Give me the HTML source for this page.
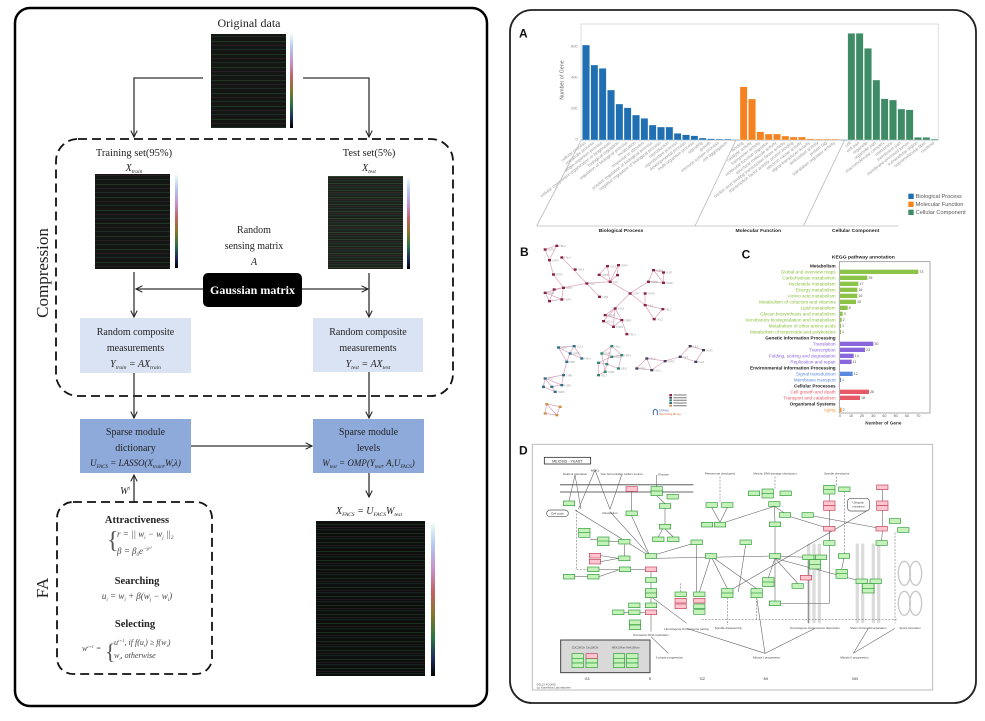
<!DOCTYPE html>
<html><head><meta charset="utf-8"><style>
html,body{margin:0;padding:0;background:#fff;}
svg{display:block;}
.sf{font-family:"Liberation Serif",serif;}
.ss{font-family:"Liberation Sans",sans-serif;}
.g{fill:#c4f2b8;stroke:#2f9a3a;stroke-width:2;}
.p{fill:#ffc6d0;stroke:#c2405a;stroke-width:2;}
.kl{stroke:#555;stroke-width:1.6;fill:none;}
.kd{stroke:#666;stroke-width:1.6;fill:none;stroke-dasharray:6 4;}
.e{stroke:#d9a4bd;stroke-width:2.2;}
</style></head><body>
<svg width="985" height="721" viewBox="0 0 985 721" xmlns="http://www.w3.org/2000/svg">
<defs>
<marker id="ar" viewBox="0 0 10 10" refX="9" refY="5" markerWidth="8" markerHeight="8" orient="auto" markerUnits="userSpaceOnUse"><path d="M1,1 L9,5 L1,9" fill="none" stroke="#222" stroke-width="1.3"/></marker>
<linearGradient id="cb" x1="0" y1="0" x2="0" y2="1">
<stop offset="0" stop-color="#eafff6"/><stop offset="0.15" stop-color="#b4c4f2"/><stop offset="0.3" stop-color="#c890cc"/><stop offset="0.45" stop-color="#c06464"/><stop offset="0.6" stop-color="#86762a"/><stop offset="0.75" stop-color="#2a7444"/><stop offset="0.88" stop-color="#1e2e62"/><stop offset="1" stop-color="#000"/>
</linearGradient>
<pattern id="h1" width="75" height="13" patternUnits="userSpaceOnUse"><rect width="75" height="13" fill="#131613"/><rect y="2" width="75" height="0.7" fill="#26402c"/><rect y="6" width="75" height="0.5" fill="#3c2836"/><rect y="10" width="75" height="0.6" fill="#263c33"/></pattern>
<pattern id="h2" width="75" height="7" patternUnits="userSpaceOnUse"><rect width="75" height="7" fill="#1a1f19"/><rect y="1" width="75" height="0.8" fill="#34482e"/><rect y="3.5" width="75" height="0.6" fill="#443436"/><rect y="5.5" width="75" height="0.7" fill="#2a4438"/></pattern>
<pattern id="h3" width="109" height="9" patternUnits="userSpaceOnUse"><rect width="109" height="9" fill="#0c0e0c"/><rect y="2" width="109" height="0.7" fill="#223a2a"/><rect y="5" width="109" height="0.5" fill="#362834"/><rect y="7.5" width="109" height="0.6" fill="#203630"/></pattern>
</defs>
<rect width="985" height="721" fill="#fff"/>

<!-- ================= LEFT PANEL ================= -->
<rect x="15" y="8" width="472" height="698" rx="15" fill="none" stroke="#000" stroke-width="2.5"/>
<g class="sf" fill="#222">
<text x="249" y="27" font-size="12" text-anchor="middle">Original data</text>
<rect x="211" y="34" width="75" height="94" fill="url(#h1)"/>
<rect x="290" y="34" width="3" height="94" fill="url(#cb)"/>

<polyline points="203,78 134,78 134,137" fill="none" stroke="#333" stroke-width="1.3" marker-end="url(#ar)"/>
<polyline points="303,78 369,78 369,137" fill="none" stroke="#333" stroke-width="1.3" marker-end="url(#ar)"/>

<rect x="56" y="139" width="397" height="257" rx="22" fill="none" stroke="#111" stroke-width="1.8" stroke-dasharray="9 5"/>

<text x="134" y="156" font-size="10.5" text-anchor="middle">Training set(95%)</text>
<text x="134" y="171" font-size="10" font-style="italic" text-anchor="middle">X<tspan font-size="5.5" dy="2">train</tspan></text>
<text x="369" y="156" font-size="10.5" text-anchor="middle">Test set(5%)</text>
<text x="369" y="171" font-size="10" font-style="italic" text-anchor="middle">X<tspan font-size="5.5" dy="2">test</tspan></text>

<rect x="95" y="174" width="75" height="95" fill="url(#h1)"/>
<rect x="175" y="175" width="3" height="93" fill="url(#cb)"/>
<rect x="328" y="176" width="75" height="93" fill="url(#h2)"/>
<rect x="407" y="178" width="3" height="91" fill="url(#cb)"/>

<text x="254" y="233" font-size="10" text-anchor="middle">Random</text>
<text x="254" y="249" font-size="10" text-anchor="middle">sensing matrix</text>
<text x="254" y="265" font-size="10" font-style="italic" text-anchor="middle">A</text>

<rect x="203" y="273" width="99" height="34" rx="5" fill="#000"/>
<text x="252.5" y="294" font-size="12" font-weight="bold" fill="#fff" text-anchor="middle">Gaussian matrix</text>
<line x1="203" y1="289" x2="136" y2="289" stroke="#333" stroke-width="1.3" marker-end="url(#ar)"/>
<line x1="302" y1="289" x2="368" y2="289" stroke="#333" stroke-width="1.3" marker-end="url(#ar)"/>
<line x1="134" y1="272" x2="134" y2="317" stroke="#333" stroke-width="1.3" marker-end="url(#ar)"/>
<line x1="369" y1="273" x2="369" y2="317" stroke="#333" stroke-width="1.3" marker-end="url(#ar)"/>

<text transform="translate(48,273) rotate(-90)" font-size="17" text-anchor="middle">Compression</text>

<rect x="80" y="318" width="111" height="55" fill="#dae3f3"/>
<rect x="313" y="318" width="110" height="54" fill="#dae3f3"/>
<text x="135.5" y="335" font-size="10" text-anchor="middle">Random composite</text>
<text x="135.5" y="351" font-size="10" text-anchor="middle">measurements</text>
<text x="135.5" y="367" font-size="10" font-style="italic" text-anchor="middle">Y<tspan font-size="5.5" dy="2">train</tspan><tspan dy="-2"> = AX</tspan><tspan font-size="5.5" dy="2">train</tspan></text>
<text x="368" y="335" font-size="10" text-anchor="middle">Random composite</text>
<text x="368" y="351" font-size="10" text-anchor="middle">measurements</text>
<text x="368" y="367" font-size="10" font-style="italic" text-anchor="middle">Y<tspan font-size="5.5" dy="2">test</tspan><tspan dy="-2"> = AX</tspan><tspan font-size="5.5" dy="2">test</tspan></text>

<line x1="134" y1="373" x2="134" y2="418" stroke="#333" stroke-width="1.3" marker-end="url(#ar)"/>
<line x1="369" y1="372" x2="369" y2="418" stroke="#333" stroke-width="1.3" marker-end="url(#ar)"/>

<rect x="80" y="419" width="111" height="54" fill="#8eaadb"/>
<rect x="313" y="419" width="111" height="54" fill="#8eaadb"/>
<text x="135.5" y="435" font-size="10" text-anchor="middle">Sparse module</text>
<text x="135.5" y="451" font-size="10" text-anchor="middle">dictionary</text>
<text x="135.5" y="466" font-size="9" font-style="italic" text-anchor="middle">U<tspan font-size="5" dy="2">FACS</tspan><tspan dy="-2"> = LASSO(X</tspan><tspan font-size="5" dy="2">train</tspan><tspan dy="-2">,W,λ)</tspan></text>
<text x="368.5" y="435" font-size="10" text-anchor="middle">Sparse module</text>
<text x="368.5" y="451" font-size="10" text-anchor="middle">levels</text>
<text x="368.5" y="466" font-size="9" font-style="italic" text-anchor="middle">W<tspan font-size="5" dy="2">test</tspan><tspan dy="-2"> = OMP(Y</tspan><tspan font-size="5" dy="2">test</tspan><tspan dy="-2">, A,U</tspan><tspan font-size="5" dy="2">FACS</tspan><tspan dy="-2">)</tspan></text>

<line x1="191" y1="446" x2="312" y2="446" stroke="#333" stroke-width="1.3" marker-end="url(#ar)"/>
<line x1="134" y1="502" x2="134" y2="475" stroke="#333" stroke-width="1.3" marker-end="url(#ar)"/>
<line x1="369" y1="473" x2="369" y2="497" stroke="#333" stroke-width="1.3" marker-end="url(#ar)"/>
<text x="125" y="494" font-size="10" font-style="italic" text-anchor="middle">W<tspan font-size="5" dy="-4">i</tspan></text>

<rect x="57" y="502" width="155" height="172" rx="16" fill="none" stroke="#111" stroke-width="1.8" stroke-dasharray="9 5"/>
<text transform="translate(48,588) rotate(-90)" font-size="17" text-anchor="middle">FA</text>

<text x="137" y="523" font-size="10.5" font-weight="bold" text-anchor="middle">Attractiveness</text>
<text x="107" y="548" font-size="24" fill="#555">{</text>
<text x="117" y="537" font-size="9" font-style="italic" fill="#444">r = || w<tspan font-size="5" dy="2">i</tspan><tspan dy="-2"> − w</tspan><tspan font-size="5" dy="2">j</tspan><tspan dy="-2"> ||</tspan><tspan font-size="5" dy="2">2</tspan></text>
<text x="117" y="554" font-size="9" font-style="italic" fill="#444">β = β<tspan font-size="5" dy="2">0</tspan><tspan dy="-2">e</tspan><tspan font-size="5" dy="-4">−γr²</tspan></text>

<text x="137" y="584" font-size="10.5" font-weight="bold" text-anchor="middle">Searching</text>
<text x="137" y="599" font-size="9" font-style="italic" fill="#444" text-anchor="middle">u<tspan font-size="5" dy="2">i</tspan><tspan dy="-2"> = w</tspan><tspan font-size="5" dy="2">i</tspan><tspan dy="-2"> + β(w</tspan><tspan font-size="5" dy="2">j</tspan><tspan dy="-2"> − w</tspan><tspan font-size="5" dy="2">i</tspan><tspan dy="-2">)</tspan></text>

<text x="135" y="627" font-size="10.5" font-weight="bold" text-anchor="middle">Selecting</text>
<text x="82" y="651" font-size="8" font-style="italic" fill="#444">w<tspan font-size="4.5" dy="-3">t+1</tspan><tspan dy="3"> =</tspan></text>
<text x="105" y="659" font-size="22" fill="#555">{</text>
<text x="114" y="645" font-size="8" font-style="italic" fill="#444">u<tspan font-size="4.5" dy="-3">t+1</tspan><tspan dy="3">,  if  f(u</tspan><tspan font-size="4.5" dy="2">i</tspan><tspan dy="-2">) ≥ f(w</tspan><tspan font-size="4.5" dy="2">i</tspan><tspan dy="-2">)</tspan></text>
<text x="114" y="658" font-size="8" font-style="italic" fill="#444">w<tspan font-size="4.5" dy="2">i</tspan><tspan dy="-2">,  otherwise</tspan></text>

<text x="369" y="514" font-size="10" font-style="italic" text-anchor="middle">X<tspan font-size="5.5" dy="2">FACS</tspan><tspan dy="-2"> = U</tspan><tspan font-size="5.5" dy="2">FACS</tspan><tspan dy="-2">W</tspan><tspan font-size="5.5" dy="2">test</tspan></text>
<rect x="316" y="521" width="109" height="155" fill="url(#h3)"/>
<rect x="431" y="523" width="4" height="153" fill="url(#cb)"/>
</g>

<!-- ================= RIGHT PANEL ================= -->
<rect x="510" y="10" width="466" height="693" rx="22" fill="none" stroke="#222" stroke-width="1.8"/>

<!-- Panel A (3x coords) -->
<g transform="translate(495,0) scale(0.33333)" class="ss">
<text x="72" y="112" font-size="36" font-weight="bold" fill="#111">A</text>
<rect x="258" y="72" width="1072" height="348" fill="none" stroke="#ddd" stroke-width="3"/>
<line x1="258" y1="420" x2="1330" y2="420" stroke="#9ab" stroke-width="3"/>
<g font-size="12" fill="#888" text-anchor="end">
<text x="248" y="142">600</text><text x="248" y="236">400</text><text x="248" y="329">200</text><text x="248" y="422">0</text>
</g>
<text transform="translate(206,240) rotate(-90)" font-size="16" fill="#666" text-anchor="middle">Number of Gene</text>
<g fill="#1f6fb2" stroke="#fff" stroke-width="1">
<rect x="262" y="135" width="22" height="285"/><rect x="287" y="195" width="22" height="225"/><rect x="312" y="205" width="22" height="215"/><rect x="337" y="270" width="22" height="150"/><rect x="362" y="312" width="22" height="108"/><rect x="387" y="323" width="22" height="97"/><rect x="412" y="345" width="22" height="75"/><rect x="437" y="355" width="22" height="65"/><rect x="462" y="375" width="22" height="45"/><rect x="487" y="381" width="22" height="39"/><rect x="512" y="381" width="22" height="39"/><rect x="537" y="400" width="22" height="20"/><rect x="562" y="404" width="22" height="16"/><rect x="587" y="407" width="22" height="13"/><rect x="612" y="414" width="22" height="6"/><rect x="637" y="416" width="22" height="4"/><rect x="662" y="417" width="22" height="3"/><rect x="687" y="417" width="22" height="3"/>
</g>
<g fill="#f5821f" stroke="#fff" stroke-width="1">
<rect x="735" y="260" width="22" height="160"/><rect x="760" y="297" width="22" height="123"/><rect x="785" y="395" width="22" height="25"/><rect x="810" y="402" width="22" height="18"/><rect x="835" y="402" width="22" height="18"/><rect x="860" y="408" width="22" height="12"/><rect x="885" y="411" width="22" height="9"/><rect x="910" y="411" width="22" height="9"/><rect x="935" y="416" width="22" height="4"/><rect x="960" y="417" width="22" height="3"/><rect x="985" y="417" width="22" height="3"/><rect x="1010" y="417" width="22" height="3"/>
</g>
<g fill="#3d8c66" stroke="#fff" stroke-width="1">
<rect x="1058" y="100" width="22" height="320"/><rect x="1083" y="100" width="22" height="320"/><rect x="1108" y="145" width="22" height="275"/><rect x="1133" y="240" width="22" height="180"/><rect x="1158" y="296" width="22" height="124"/><rect x="1183" y="300" width="22" height="120"/><rect x="1208" y="327" width="22" height="93"/><rect x="1233" y="329" width="22" height="91"/><rect x="1258" y="412" width="22" height="8"/><rect x="1283" y="412" width="22" height="8"/><rect x="1308" y="417" width="22" height="3"/>
</g>
<g font-size="13" fill="#999" text-anchor="end">
<text transform="translate(273,430) rotate(-38)">cellular process</text>
<text transform="translate(298,430) rotate(-38)">metabolic process</text>
<text transform="translate(323,430) rotate(-38)">single-organism process</text>
<text transform="translate(348,430) rotate(-38)">cellular component organization or biogenesis</text>
<text transform="translate(373,430) rotate(-38)">biological regulation</text>
<text transform="translate(398,430) rotate(-38)">regulation of biological process</text>
<text transform="translate(423,430) rotate(-38)">localization</text>
<text transform="translate(448,430) rotate(-38)">response to stimulus</text>
<text transform="translate(473,430) rotate(-38)">positive regulation of biological process</text>
<text transform="translate(498,430) rotate(-38)">negative regulation of biological process</text>
<text transform="translate(523,430) rotate(-38)">reproduction</text>
<text transform="translate(548,430) rotate(-38)">reproductive process</text>
<text transform="translate(573,430) rotate(-38)">developmental process</text>
<text transform="translate(598,430) rotate(-38)">multi-organism process</text>
<text transform="translate(623,430) rotate(-38)">signaling</text>
<text transform="translate(648,430) rotate(-38)">growth</text>
<text transform="translate(673,430) rotate(-38)">immune system process</text>
<text transform="translate(698,430) rotate(-38)">cell aggregation</text>
<text transform="translate(746,430) rotate(-38)">binding</text>
<text transform="translate(771,430) rotate(-38)">catalytic activity</text>
<text transform="translate(796,430) rotate(-38)">transporter activity</text>
<text transform="translate(821,430) rotate(-38)">molecular function regulator</text>
<text transform="translate(846,430) rotate(-38)">structural molecule activity</text>
<text transform="translate(871,430) rotate(-38)">nucleic acid binding transcription factor activity</text>
<text transform="translate(896,430) rotate(-38)">transcription factor activity, protein binding</text>
<text transform="translate(921,430) rotate(-38)">electron carrier activity</text>
<text transform="translate(946,430) rotate(-38)">signal transducer activity</text>
<text transform="translate(971,430) rotate(-38)">antioxidant activity</text>
<text transform="translate(996,430) rotate(-38)">protein tag</text>
<text transform="translate(1021,430) rotate(-38)">translation regulator activity</text>
<text transform="translate(1069,430) rotate(-38)">cell</text>
<text transform="translate(1094,430) rotate(-38)">cell part</text>
<text transform="translate(1119,430) rotate(-38)">organelle</text>
<text transform="translate(1144,430) rotate(-38)">organelle part</text>
<text transform="translate(1169,430) rotate(-38)">macromolecular complex</text>
<text transform="translate(1194,430) rotate(-38)">membrane</text>
<text transform="translate(1219,430) rotate(-38)">membrane part</text>
<text transform="translate(1244,430) rotate(-38)">membrane-enclosed lumen</text>
<text transform="translate(1269,430) rotate(-38)">extracellular region</text>
<text transform="translate(1294,430) rotate(-38)">supramolecular fiber</text>
<text transform="translate(1319,430) rotate(-38)">nucleoid</text>
</g>
<g stroke="#bbb" stroke-width="2.5" fill="none">
<line x1="258" y1="422" x2="125" y2="678"/><line x1="722" y1="422" x2="600" y2="678"/><line x1="1048" y1="422" x2="925" y2="678"/><line x1="125" y1="678" x2="1210" y2="678"/>
</g>
<g font-size="15" font-weight="bold" fill="#222" text-anchor="middle">
<text x="378" y="696">Biological Process</text><text x="790" y="696">Molecular Function</text><text x="1082" y="696">Cellular Component</text>
</g>
<rect x="1240" y="581" width="16" height="16" fill="#1f6fb2"/><rect x="1240" y="605" width="16" height="16" fill="#f5821f"/><rect x="1240" y="629" width="16" height="16" fill="#3d8c66"/>
<g font-size="17" fill="#555"><text x="1262" y="594">Biological Process</text><text x="1262" y="618">Molecular Function</text><text x="1262" y="642">Cellular Component</text></g>
</g>

<!-- Panel B (3x coords) -->
<text x="520" y="256" font-size="12" font-weight="bold" class="ss" fill="#111">B</text>
<g transform="translate(530,240) scale(0.33333)" class="ss">
<g class="e">
<line x1="45" y1="28" x2="80" y2="17"/><line x1="45" y1="28" x2="58" y2="60"/><line x1="80" y1="17" x2="58" y2="60"/><line x1="58" y1="60" x2="70" y2="103"/><line x1="70" y1="103" x2="100" y2="143"/><line x1="100" y1="143" x2="72" y2="148"/><line x1="100" y1="143" x2="45" y2="158"/><line x1="72" y1="148" x2="58" y2="183"/><line x1="45" y1="158" x2="58" y2="183"/><line x1="58" y1="183" x2="95" y2="178"/><line x1="100" y1="143" x2="95" y2="178"/><line x1="45" y1="158" x2="95" y2="178"/><line x1="100" y1="143" x2="170" y2="130"/><line x1="95" y1="52" x2="170" y2="130"/><line x1="170" y1="130" x2="240" y2="125"/><line x1="170" y1="130" x2="208" y2="170"/><line x1="207" y1="104" x2="232" y2="78"/><line x1="207" y1="104" x2="240" y2="125"/><line x1="232" y1="78" x2="240" y2="125"/><line x1="265" y1="75" x2="240" y2="125"/><line x1="262" y1="105" x2="240" y2="125"/><line x1="265" y1="75" x2="262" y2="105"/><line x1="240" y1="125" x2="300" y2="160"/><line x1="300" y1="160" x2="255" y2="205"/><line x1="300" y1="160" x2="355" y2="125"/><line x1="355" y1="125" x2="370" y2="90"/><line x1="370" y1="90" x2="400" y2="97"/><line x1="370" y1="90" x2="400" y2="128"/><line x1="355" y1="125" x2="400" y2="128"/><line x1="400" y1="97" x2="400" y2="128"/><line x1="300" y1="160" x2="345" y2="195"/><line x1="345" y1="160" x2="345" y2="195"/><line x1="345" y1="195" x2="372" y2="237"/><line x1="398" y1="207" x2="372" y2="237"/><line x1="345" y1="195" x2="398" y2="207"/><line x1="255" y1="205" x2="225" y2="225"/><line x1="255" y1="205" x2="220" y2="243"/><line x1="255" y1="205" x2="275" y2="240"/><line x1="225" y1="225" x2="275" y2="240"/><line x1="220" y1="243" x2="250" y2="260"/><line x1="275" y1="240" x2="250" y2="260"/><line x1="275" y1="240" x2="290" y2="282"/><line x1="255" y1="205" x2="250" y2="260"/>
<line x1="85" y1="322" x2="132" y2="318"/><line x1="85" y1="322" x2="120" y2="340"/><line x1="132" y1="318" x2="120" y2="340"/><line x1="120" y1="340" x2="155" y2="355"/><line x1="132" y1="318" x2="155" y2="355"/><line x1="120" y1="340" x2="110" y2="365"/><line x1="85" y1="322" x2="110" y2="365"/><line x1="110" y1="365" x2="100" y2="405"/><line x1="100" y1="405" x2="45" y2="415"/><line x1="100" y1="405" x2="95" y2="435"/><line x1="45" y1="415" x2="40" y2="440"/><line x1="45" y1="415" x2="65" y2="440"/><line x1="40" y1="440" x2="75" y2="455"/><line x1="65" y1="440" x2="95" y2="435"/><line x1="45" y1="415" x2="95" y2="435"/><line x1="65" y1="440" x2="75" y2="455"/>
<line x1="245" y1="318" x2="215" y2="340"/><line x1="245" y1="318" x2="275" y2="345"/><line x1="215" y1="340" x2="245" y2="350"/><line x1="245" y1="350" x2="275" y2="345"/><line x1="245" y1="350" x2="205" y2="368"/><line x1="205" y1="368" x2="230" y2="372"/><line x1="230" y1="372" x2="265" y2="385"/><line x1="230" y1="372" x2="225" y2="395"/><line x1="205" y1="368" x2="205" y2="405"/><line x1="225" y1="395" x2="205" y2="405"/><line x1="245" y1="318" x2="230" y2="372"/><line x1="275" y1="345" x2="265" y2="385"/><line x1="215" y1="340" x2="225" y2="395"/>
<line x1="350" y1="355" x2="320" y2="385"/><line x1="350" y1="355" x2="365" y2="390"/><line x1="320" y1="385" x2="365" y2="390"/><line x1="365" y1="390" x2="405" y2="363"/><line x1="350" y1="355" x2="405" y2="363"/><line x1="405" y1="363" x2="450" y2="350"/><line x1="450" y1="350" x2="480" y2="318"/><line x1="480" y1="318" x2="520" y2="330"/><line x1="520" y1="330" x2="497" y2="365"/><line x1="450" y1="350" x2="497" y2="365"/>
<line x1="50" y1="492" x2="90" y2="500"/><line x1="50" y1="492" x2="45" y2="520"/><line x1="45" y1="520" x2="80" y2="525"/><line x1="90" y1="500" x2="80" y2="525"/><line x1="50" y1="492" x2="80" y2="525"/>
</g>
<g fill="#8a2244">
<rect x="41" y="25" width="9" height="7"/><rect x="76" y="14" width="9" height="7"/><rect x="54" y="57" width="9" height="7"/><rect x="91" y="49" width="9" height="7"/><rect x="66" y="100" width="9" height="7"/><rect x="131" y="85" width="9" height="7"/><rect x="96" y="140" width="9" height="7"/><rect x="68" y="145" width="9" height="7"/><rect x="41" y="155" width="9" height="7"/><rect x="54" y="180" width="9" height="7"/><rect x="91" y="175" width="9" height="7"/><rect x="166" y="127" width="9" height="7"/><rect x="204" y="167" width="9" height="7"/><rect x="228" y="75" width="9" height="7"/><rect x="261" y="72" width="9" height="7"/><rect x="203" y="101" width="9" height="7"/><rect x="236" y="122" width="9" height="7"/><rect x="258" y="102" width="9" height="7"/><rect x="296" y="157" width="9" height="7"/><rect x="251" y="202" width="9" height="7"/><rect x="221" y="222" width="9" height="7"/><rect x="216" y="240" width="9" height="7"/><rect x="271" y="237" width="9" height="7"/><rect x="246" y="257" width="9" height="7"/><rect x="286" y="279" width="9" height="7"/><rect x="351" y="122" width="9" height="7"/><rect x="366" y="87" width="9" height="7"/><rect x="396" y="94" width="9" height="7"/><rect x="396" y="125" width="9" height="7"/><rect x="341" y="157" width="9" height="7"/><rect x="341" y="192" width="9" height="7"/><rect x="394" y="204" width="9" height="7"/><rect x="368" y="234" width="9" height="7"/>
</g>
<g fill="#2e6e88">
<rect x="81" y="319" width="9" height="7"/><rect x="128" y="315" width="9" height="7"/><rect x="116" y="337" width="9" height="7"/><rect x="151" y="352" width="9" height="7"/><rect x="106" y="362" width="9" height="7"/><rect x="96" y="402" width="9" height="7"/><rect x="41" y="412" width="9" height="7"/><rect x="36" y="437" width="9" height="7"/><rect x="61" y="437" width="9" height="7"/><rect x="91" y="432" width="9" height="7"/><rect x="71" y="452" width="9" height="7"/>
</g>
<g fill="#2e8a6a">
<rect x="241" y="315" width="9" height="7"/><rect x="211" y="337" width="9" height="7"/><rect x="271" y="342" width="9" height="7"/><rect x="241" y="347" width="9" height="7"/><rect x="201" y="365" width="9" height="7"/><rect x="226" y="369" width="9" height="7"/><rect x="261" y="382" width="9" height="7"/><rect x="221" y="392" width="9" height="7"/><rect x="201" y="402" width="9" height="7"/>
</g>
<g fill="#44405a">
<rect x="346" y="352" width="9" height="7"/><rect x="316" y="382" width="9" height="7"/><rect x="361" y="387" width="9" height="7"/><rect x="401" y="360" width="9" height="7"/><rect x="446" y="347" width="9" height="7"/><rect x="476" y="315" width="9" height="7"/><rect x="516" y="327" width="9" height="7"/><rect x="493" y="362" width="9" height="7"/>
</g>
<g fill="#d0904a"><rect x="46" y="489" width="9" height="7"/><rect x="86" y="497" width="9" height="7"/><rect x="41" y="517" width="9" height="7"/><rect x="76" y="522" width="9" height="7"/></g>
<g font-size="8" fill="#999">
<text x="52" y="32">YDR1</text><text x="87" y="21">YBL2</text><text x="65" y="64">YGR3</text><text x="102" y="56">YNL4</text><text x="77" y="107">YFR5</text><text x="142" y="92">YML6</text><text x="107" y="147">YPR7</text><text x="52" y="162">YOL8</text><text x="102" y="182">YLR9</text><text x="177" y="134">YDL1</text><text x="215" y="174">YJR2</text><text x="239" y="82">YKL3</text><text x="272" y="79">YER4</text><text x="214" y="108">YHR5</text><text x="247" y="129">YIL6</text><text x="307" y="164">YCR7</text><text x="262" y="209">YGL8</text><text x="232" y="229">YBR9</text><text x="227" y="247">YAL1</text><text x="282" y="244">YMR2</text><text x="257" y="264">YOR3</text><text x="297" y="286">YPL4</text><text x="362" y="129">YNR5</text><text x="377" y="94">YDR6</text><text x="407" y="101">YLR7</text><text x="407" y="132">YKR8</text><text x="352" y="164">YGR9</text><text x="352" y="199">YJL1</text><text x="405" y="211">YEL2</text><text x="379" y="241">YFL3</text>
<text x="92" y="326">YBR1</text><text x="139" y="322">YCL2</text><text x="127" y="344">YDR3</text><text x="162" y="359">YHL4</text><text x="117" y="369">YIR5</text><text x="107" y="409">YJR6</text><text x="52" y="419">YKL7</text><text x="102" y="439">YLR8</text><text x="82" y="459">YMR9</text>
<text x="252" y="322">YNL1</text><text x="222" y="344">YOR2</text><text x="282" y="349">YPR3</text><text x="252" y="354">YAR4</text><text x="272" y="389">YBL5</text><text x="232" y="399">YCR6</text><text x="212" y="409">YDL7</text>
<text x="357" y="359">YEL8</text><text x="327" y="389">YFR9</text><text x="372" y="394">YGL1</text><text x="412" y="367">YHR2</text><text x="457" y="354">YIL3</text><text x="487" y="322">YJL4</text><text x="527" y="334">YKR5</text><text x="504" y="369">YLL6</text>
</g>
<rect x="418" y="462" width="8" height="6" fill="#8a2244"/><rect x="418" y="470" width="8" height="6" fill="#44405a"/><rect x="418" y="478" width="8" height="6" fill="#2e8a6a"/><rect x="418" y="486" width="8" height="6" fill="#2e6e88"/><rect x="418" y="494" width="8" height="6" fill="#d0904a"/>
<g fill="#999"><rect x="430" y="463" width="40" height="4"/><rect x="430" y="471" width="40" height="4"/><rect x="430" y="479" width="40" height="4"/><rect x="430" y="487" width="40" height="4"/><rect x="430" y="495" width="40" height="4"/></g>
<path d="M370,525 L370,512 Q376,504 382,512 L382,525" fill="none" stroke="#3a6ab0" stroke-width="3"/>
<text x="387" y="514" font-size="8" fill="#3a6ab0">STRING</text><text x="387" y="525" font-size="8" fill="#d06020">http://string-db.org</text>
</g>

<!-- Panel C (3x coords) -->
<g transform="translate(495,235) scale(0.33333)" class="ss">
<text x="740" y="70" font-size="36" font-weight="bold" fill="#111">C</text>
<text x="1105" y="71" font-size="15" font-weight="bold" fill="#222" text-anchor="middle">KEGG pathway annotation</text>
<rect x="1033" y="80" width="272" height="454" fill="none" stroke="#999" stroke-width="2.5"/>
<g font-size="14" text-anchor="end">
<text x="1022" y="97" font-weight="bold" fill="#222">Metabolism</text>
<text x="1022" y="115" fill="#8cc040">Global and overview maps</text>
<text x="1022" y="133" fill="#8cc040">Carbohydrate metabolism</text>
<text x="1022" y="151" fill="#8cc040">Nucleotide metabolism</text>
<text x="1022" y="169" fill="#8cc040">Energy metabolism</text>
<text x="1022" y="187" fill="#8cc040">Amino acid metabolism</text>
<text x="1022" y="205" fill="#8cc040">Metabolism of cofactors and vitamins</text>
<text x="1022" y="223" fill="#8cc040">Lipid metabolism</text>
<text x="1022" y="241" fill="#8cc040">Glycan biosynthesis and metabolism</text>
<text x="1022" y="259" fill="#8cc040">Xenobiotics biodegradation and metabolism</text>
<text x="1022" y="277" fill="#8cc040">Metabolism of other amino acids</text>
<text x="1022" y="295" fill="#8cc040">Metabolism of terpenoids and polyketides</text>
<text x="1022" y="313" font-weight="bold" fill="#222">Genetic Information Processing</text>
<text x="1022" y="331" fill="#8a66dd">Translation</text>
<text x="1022" y="349" fill="#8a66dd">Transcription</text>
<text x="1022" y="367" fill="#8a66dd">Folding, sorting and degradation</text>
<text x="1022" y="385" fill="#8a66dd">Replication and repair</text>
<text x="1022" y="403" font-weight="bold" fill="#222">Environmental Information Processing</text>
<text x="1022" y="421" fill="#5a8ade">Signal transduction</text>
<text x="1022" y="439" fill="#5a8ade">Membrane transport</text>
<text x="1022" y="457" font-weight="bold" fill="#222">Cellular Processes</text>
<text x="1022" y="475" fill="#e65a68">Cell growth and death</text>
<text x="1022" y="493" fill="#e65a68">Transport and catabolism</text>
<text x="1022" y="511" font-weight="bold" fill="#222">Organismal Systems</text>
<text x="1022" y="529" fill="#ee9a40">Aging</text>
</g>
<g fill="#8cc44a">
<rect x="1035" y="104" width="235" height="13"/><rect x="1035" y="122" width="82" height="13"/><rect x="1035" y="140" width="55" height="13"/><rect x="1035" y="158" width="52" height="13"/><rect x="1035" y="176" width="52" height="13"/><rect x="1035" y="194" width="48" height="13"/><rect x="1035" y="212" width="23" height="13"/><rect x="1035" y="230" width="8" height="13"/><rect x="1035" y="248" width="5" height="13"/><rect x="1035" y="266" width="3" height="13"/><rect x="1035" y="284" width="3" height="13"/>
</g>
<g fill="#8a66dd"><rect x="1035" y="320" width="100" height="13"/><rect x="1035" y="338" width="75" height="13"/><rect x="1035" y="356" width="41" height="13"/><rect x="1035" y="374" width="35" height="13"/></g>
<g fill="#5a8ade"><rect x="1035" y="410" width="38" height="13"/><rect x="1035" y="428" width="3" height="13"/></g>
<g fill="#e65a68"><rect x="1035" y="464" width="87" height="13"/><rect x="1035" y="482" width="60" height="13"/></g>
<rect x="1035" y="518" width="5" height="13" fill="#ee9a40"/>
<g font-size="11" fill="#555">
<text x="1273" y="114">73</text><text x="1120" y="132">25</text><text x="1093" y="150">17</text><text x="1090" y="168">16</text><text x="1090" y="186">16</text><text x="1086" y="204">15</text><text x="1061" y="222">8</text><text x="1046" y="240">3</text><text x="1043" y="258">2</text><text x="1041" y="276">1</text><text x="1041" y="294">1</text><text x="1138" y="330">30</text><text x="1113" y="348">23</text><text x="1079" y="366">14</text><text x="1073" y="384">11</text><text x="1076" y="420">12</text><text x="1041" y="438">1</text><text x="1125" y="474">26</text><text x="1098" y="492">18</text><text x="1043" y="528">2</text>
</g>
<g font-size="11" fill="#555" text-anchor="middle">
<text x="1035" y="546">0</text><text x="1068" y="546">10</text><text x="1101" y="546">20</text><text x="1135" y="546">30</text><text x="1168" y="546">40</text><text x="1202" y="546">50</text><text x="1236" y="546">60</text><text x="1270" y="546">70</text>
</g>
<text x="1165" y="568" font-size="14" font-weight="bold" fill="#333" text-anchor="middle">Number of Gene</text>
</g>

<!-- Panel D (3x coords) -->
<g transform="translate(495,410) scale(0.33333)" class="ss">
<text x="72" y="134" font-size="36" font-weight="bold" fill="#111">D</text>
<rect x="112" y="103" width="1201" height="737" fill="#fff" stroke="#bbb" stroke-width="3"/>
<rect x="148" y="142" width="139" height="20" fill="#fff" stroke="#333" stroke-width="2.5"/>
<text x="217" y="157" font-size="11" fill="#333" text-anchor="middle">MEIOSIS - YEAST</text>
<line x1="195" y1="224" x2="595" y2="224" stroke="#888" stroke-width="4"/>
<line x1="195" y1="246" x2="595" y2="246" stroke="#888" stroke-width="4"/>
<g fill="#dcdcdc">
<rect x="936" y="400" width="10" height="240" rx="5"/><rect x="952" y="400" width="10" height="240" rx="5"/><rect x="968" y="400" width="10" height="240" rx="5"/>
<rect x="1082" y="400" width="10" height="240" rx="5"/><rect x="1098" y="400" width="10" height="240" rx="5"/><rect x="1130" y="400" width="10" height="240" rx="5"/><rect x="1146" y="400" width="10" height="240" rx="5"/>
</g>
<g fill="none" stroke="#c8c8c8" stroke-width="4">
<ellipse cx="1228" cy="490" rx="18" ry="36"/><ellipse cx="1262" cy="490" rx="18" ry="36"/><ellipse cx="1228" cy="580" rx="18" ry="36"/><ellipse cx="1262" cy="580" rx="18" ry="36"/>
</g>
<g class="kl">
<line x1="468" y1="445" x2="840" y2="438"/><line x1="468" y1="438" x2="605" y2="397"/><line x1="240" y1="300" x2="460" y2="436"/><line x1="345" y1="305" x2="460" y2="432"/><line x1="410" y1="318" x2="462" y2="432"/>
<line x1="648" y1="438" x2="697" y2="536"/><line x1="648" y1="438" x2="785" y2="536"/><line x1="648" y1="438" x2="613" y2="546"/><line x1="605" y1="404" x2="605" y2="546"/>
<line x1="840" y1="438" x2="940" y2="442"/><line x1="840" y1="445" x2="1100" y2="514"/><line x1="840" y1="445" x2="908" y2="520"/><line x1="840" y1="445" x2="820" y2="503"/>
<line x1="838" y1="289" x2="840" y2="336"/><line x1="840" y1="350" x2="840" y2="430"/><line x1="838" y1="289" x2="680" y2="340"/><line x1="838" y1="289" x2="870" y2="310"/>
<line x1="870" y1="315" x2="1003" y2="356"/><line x1="938" y1="315" x2="1160" y2="356"/><line x1="1120" y1="300" x2="697" y2="546"/>
<line x1="468" y1="560" x2="575" y2="640"/><line x1="575" y1="655" x2="810" y2="730"/><line x1="785" y1="563" x2="810" y2="730"/><line x1="960" y1="655" x2="810" y2="730"/><line x1="1120" y1="655" x2="1075" y2="730"/><line x1="1200" y1="655" x2="1075" y2="730"/><line x1="468" y1="680" x2="520" y2="730"/>
<polyline points="1003,300 1003,580 857,580"/><line x1="840" y1="445" x2="840" y2="573"/>
<line x1="410" y1="303" x2="410" y2="244"/><polyline points="485,257 510,281 510,343 490,381"/><line x1="510" y1="357" x2="535" y2="381"/>
<line x1="317" y1="437" x2="371" y2="445"/><line x1="317" y1="455" x2="371" y2="445"/><line x1="405" y1="478" x2="451" y2="478"/><line x1="239" y1="500" x2="278" y2="500"/><line x1="312" y1="500" x2="370" y2="480"/><line x1="312" y1="478" x2="373" y2="478"/>
<polyline points="468,485 468,503"/><line x1="468" y1="517" x2="468" y2="536"/><line x1="468" y1="614" x2="468" y2="665"/><line x1="468" y1="563" x2="468" y2="579"/>
<line x1="285" y1="388" x2="308" y2="388"/><line x1="342" y1="395" x2="371" y2="395"/><line x1="388" y1="403" x2="388" y2="438"/>
<line x1="300" y1="180" x2="250" y2="298"/><line x1="300" y1="180" x2="345" y2="298"/><line x1="240" y1="195" x2="222" y2="273"/><line x1="380" y1="195" x2="345" y2="298"/><line x1="240" y1="195" x2="258" y2="298"/>
<line x1="485" y1="195" x2="485" y2="230"/><line x1="387" y1="607" x2="401" y2="607"/><line x1="435" y1="607" x2="451" y2="607"/>
<line x1="650" y1="292" x2="675" y2="337"/><line x1="697" y1="292" x2="675" y2="337"/><line x1="1003" y1="252" x2="1003" y2="273"/><line x1="1162" y1="239" x2="1162" y2="273"/><line x1="1162" y1="301" x2="1162" y2="349"/><line x1="1162" y1="363" x2="1160" y2="392"/><line x1="1003" y1="363" x2="1003" y2="392"/>
<line x1="940" y1="449" x2="940" y2="640"/><line x1="1047" y1="445" x2="1040" y2="478"/><line x1="752" y1="404" x2="730" y2="546"/>
</g>
<g class="kd">
<line x1="620" y1="628" x2="1205" y2="628"/><line x1="245" y1="300" x2="245" y2="478"/><line x1="245" y1="478" x2="278" y2="478"/><line x1="1048" y1="245" x2="1048" y2="430"/><line x1="1200" y1="367" x2="1200" y2="640"/><line x1="697" y1="563" x2="697" y2="645"/><line x1="675" y1="200" x2="675" y2="275"/><line x1="840" y1="200" x2="840" y2="237"/><line x1="1025" y1="200" x2="1025" y2="226"/><line x1="557" y1="520" x2="557" y2="545"/><line x1="785" y1="563" x2="785" y2="628"/>
</g>
<g class="g">
<rect x="205" y="273" width="34" height="14"/><rect x="468" y="230" width="34" height="14"/><rect x="468" y="243" width="34" height="14"/><rect x="516" y="253" width="34" height="14"/><rect x="493" y="281" width="34" height="14"/><rect x="393" y="303" width="34" height="14"/><rect x="493" y="343" width="34" height="14"/><rect x="473" y="381" width="34" height="14"/><rect x="518" y="381" width="34" height="14"/><rect x="251" y="355" width="34" height="14"/><rect x="251" y="368" width="34" height="14"/><rect x="308" y="381" width="34" height="14"/><rect x="308" y="393" width="34" height="14"/><rect x="371" y="388" width="34" height="14"/><rect x="371" y="438" width="34" height="14"/><rect x="451" y="431" width="34" height="14"/><rect x="278" y="471" width="34" height="14"/><rect x="373" y="471" width="34" height="14"/><rect x="205" y="493" width="34" height="14"/><rect x="278" y="493" width="34" height="14"/><rect x="451" y="503" width="34" height="14"/><rect x="451" y="536" width="34" height="14"/><rect x="451" y="549" width="34" height="14"/><rect x="401" y="579" width="34" height="14"/><rect x="451" y="579" width="34" height="14"/><rect x="353" y="600" width="34" height="14"/><rect x="401" y="600" width="34" height="14"/><rect x="403" y="630" width="34" height="14"/><rect x="403" y="645" width="34" height="14"/><rect x="540" y="546" width="34" height="14"/><rect x="596" y="546" width="34" height="14"/><rect x="596" y="582" width="34" height="14"/><rect x="596" y="599" width="34" height="14"/><rect x="633" y="278" width="34" height="14"/><rect x="680" y="278" width="34" height="14"/><rect x="619" y="337" width="34" height="14"/><rect x="658" y="337" width="34" height="14"/><rect x="588" y="390" width="34" height="14"/><rect x="631" y="431" width="34" height="14"/><rect x="735" y="390" width="34" height="14"/><rect x="680" y="536" width="34" height="14"/><rect x="680" y="549" width="34" height="14"/><rect x="768" y="536" width="34" height="14"/><rect x="768" y="549" width="34" height="14"/><rect x="760" y="243" width="34" height="14"/><rect x="801" y="237" width="34" height="14"/><rect x="801" y="250" width="34" height="14"/><rect x="855" y="243" width="34" height="14"/><rect x="821" y="275" width="34" height="14"/><rect x="853" y="308" width="34" height="14"/><rect x="921" y="308" width="34" height="14"/><rect x="823" y="336" width="34" height="14"/><rect x="823" y="431" width="34" height="14"/><rect x="803" y="503" width="34" height="14"/><rect x="803" y="516" width="34" height="14"/><rect x="891" y="521" width="34" height="14"/><rect x="823" y="573" width="34" height="14"/><rect x="923" y="435" width="34" height="14"/><rect x="961" y="435" width="34" height="14"/><rect x="943" y="449" width="34" height="14"/><rect x="943" y="463" width="34" height="14"/><rect x="986" y="392" width="34" height="14"/><rect x="986" y="226" width="34" height="14"/><rect x="986" y="238" width="34" height="14"/><rect x="1031" y="231" width="34" height="14"/><rect x="1030" y="431" width="34" height="14"/><rect x="1023" y="478" width="34" height="14"/><rect x="1023" y="491" width="34" height="14"/><rect x="1083" y="507" width="34" height="14"/><rect x="1125" y="507" width="34" height="14"/><rect x="1103" y="521" width="34" height="14"/><rect x="1103" y="535" width="34" height="14"/><rect x="1183" y="326" width="34" height="14"/><rect x="1208" y="353" width="34" height="14"/><rect x="1143" y="392" width="34" height="14"/>
</g>
<g class="p">
<rect x="393" y="230" width="34" height="14"/><rect x="283" y="430" width="34" height="14"/><rect x="283" y="448" width="34" height="14"/><rect x="451" y="471" width="34" height="14"/><rect x="451" y="600" width="34" height="14"/><rect x="540" y="565" width="34" height="14"/><rect x="540" y="582" width="34" height="14"/><rect x="596" y="565" width="34" height="14"/><rect x="916" y="496" width="34" height="14"/><rect x="986" y="349" width="34" height="14"/><rect x="986" y="273" width="34" height="14"/><rect x="986" y="287" width="34" height="14"/><rect x="1145" y="225" width="34" height="14"/><rect x="1145" y="273" width="34" height="14"/><rect x="1145" y="287" width="34" height="14"/><rect x="1143" y="349" width="34" height="14"/>
</g>
<rect x="155" y="300" width="65" height="20" rx="10" fill="#fff" stroke="#555" stroke-width="2"/>
<text x="187" y="314" font-size="9" fill="#333" text-anchor="middle">Cell cycle</text>
<rect x="1058" y="265" width="65" height="38" rx="9" fill="#fff" stroke="#555" stroke-width="2"/>
<g font-size="9" fill="#444" text-anchor="middle">
<text x="1090" y="280">Ubiquitin</text><text x="1090" y="292">mediated</text>
<text x="240" y="195">Nutrient starvation</text><text x="300" y="184">MCK1</text><text x="380" y="195">Non-fermentable carbon source</text><text x="505" y="196">Glucose</text><text x="675" y="193">Pheromone checkpoint</text><text x="840" y="193">Meiotic DNA damage checkpoint</text><text x="1025" y="193">Spindle checkpoint</text>
<text x="345" y="312">Respiration</text><text x="523" y="745">S phase progression</text><text x="468" y="678">Premeiotic DNA replication</text><text x="575" y="660">Homologous chromosome pairing</text><text x="700" y="657">Spindle disassembly</text><text x="960" y="657">Homologous chromosome disjunction</text><text x="1120" y="657">Sister chromatid separation</text><text x="1245" y="657">Spore formation</text><text x="815" y="745">Mitosis I progression</text><text x="1078" y="745">Mitosis II progression</text>
</g>
<rect x="197" y="690" width="268" height="98" fill="#d9d9d9" stroke="#444" stroke-width="3"/>
<g font-size="8" fill="#444" text-anchor="middle"><text x="270" y="715">CDC28/Cln Cdc28/Clb</text><text x="392" y="715">MEK1/Mum Mek1/Mum</text></g>
<g class="g">
<rect x="231" y="731" width="34" height="14"/><rect x="231" y="745" width="34" height="14"/><rect x="273" y="745" width="34" height="14"/><rect x="231" y="759" width="34" height="14"/><rect x="273" y="759" width="34" height="14"/>
<rect x="355" y="731" width="34" height="14"/><rect x="395" y="731" width="34" height="14"/><rect x="355" y="745" width="34" height="14"/><rect x="395" y="745" width="34" height="14"/><rect x="355" y="759" width="34" height="14"/><rect x="395" y="759" width="34" height="14"/>
</g>
<rect x="273" y="731" width="34" height="14" class="p"/>
<g font-size="12" fill="#333" text-anchor="middle"><text x="277" y="810">G1</text><text x="465" y="810">S</text><text x="622" y="810">G2</text><text x="812" y="810">MI</text><text x="1080" y="810">MII</text></g>
<text x="125" y="826" font-size="9" fill="#555">04113 4/20/09</text><text x="125" y="836" font-size="9" fill="#555">(c) Kanehisa Laboratories</text>
</g>
</svg>
</body></html>
